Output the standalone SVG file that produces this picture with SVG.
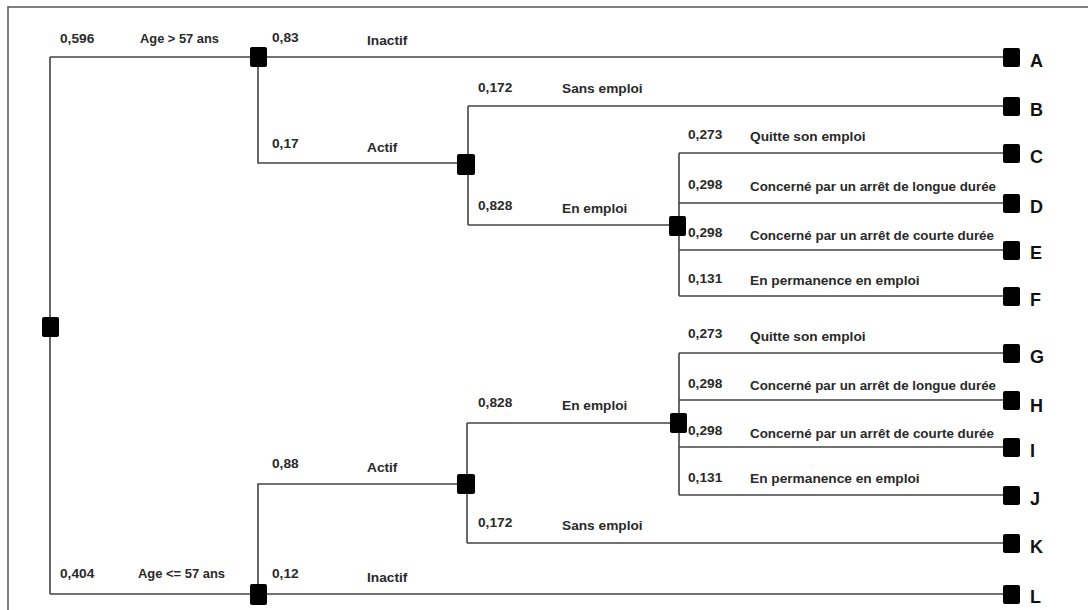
<svg xmlns="http://www.w3.org/2000/svg" width="1088" height="610" viewBox="0 0 1088 610">
<style>
.frame{fill:none;stroke:#555;stroke-width:1.5}
.edge{fill:none;stroke:#444;stroke-width:1.6}
.node{fill:#000}
.t{font-family:"Liberation Sans",Arial,sans-serif;font-size:13.7px;font-weight:bold;fill:#2a2a2a}
.lt{font-family:"Liberation Sans",Arial,sans-serif;font-size:18px;font-weight:bold;fill:#111}
</style>
<rect width="1088" height="610" fill="#fff"/>
<path class="frame" d="M8,612 V7 H1090"/>
<g id="connectors">
<path class="edge" d="M50,57 V594 M50,57 H258 M50,594 H258"/>
<path class="edge" d="M258,57 H1011 M258,57 V163 H466"/>
<path class="edge" d="M468,106 V225 M468,106 H1011 M468,225 H679"/>
<path class="edge" d="M679,153 V296 M679,153 H1011 M679,203 H1011 M679,250 H1011 M679,296 H1011"/>
<path class="edge" d="M258,594 H1011 M258,594 V484 H466"/>
<path class="edge" d="M467,423 V543 M467,423 H679 M467,543 H1011"/>
<path class="edge" d="M679,353 V495 M679,353 H1011 M679,400 H1011 M679,447 H1011 M679,495 H1011"/>
</g>
<g id="edge-labels">
<text class="t" x="60" y="43">0,596</text>
<text class="t" x="140" y="43" textLength="79" lengthAdjust="spacingAndGlyphs">Age &gt; 57 ans</text>
<text class="t" x="272" y="42">0,83</text>
<text class="t" x="367" y="45">Inactif</text>
<text class="t" x="272" y="148">0,17</text>
<text class="t" x="367" y="152">Actif</text>
<text class="t" x="478" y="92">0,172</text>
<text class="t" x="562" y="93">Sans emploi</text>
<text class="t" x="478" y="210">0,828</text>
<text class="t" x="562" y="213">En emploi</text>
<text class="t" x="688" y="139">0,273</text>
<text class="t" x="750" y="141">Quitte son emploi</text>
<text class="t" x="688" y="189">0,298</text>
<text class="t" x="750" y="191" textLength="246" lengthAdjust="spacingAndGlyphs">Concerné par un arrêt de longue durée</text>
<text class="t" x="688" y="237">0,298</text>
<text class="t" x="750" y="240" textLength="244" lengthAdjust="spacingAndGlyphs">Concerné par un arrêt de courte durée</text>
<text class="t" x="688" y="283">0,131</text>
<text class="t" x="750" y="285">En permanence en emploi</text>
<text class="t" x="688" y="338">0,273</text>
<text class="t" x="750" y="341">Quitte son emploi</text>
<text class="t" x="688" y="388">0,298</text>
<text class="t" x="750" y="390" textLength="246" lengthAdjust="spacingAndGlyphs">Concerné par un arrêt de longue durée</text>
<text class="t" x="688" y="435">0,298</text>
<text class="t" x="750" y="438" textLength="244" lengthAdjust="spacingAndGlyphs">Concerné par un arrêt de courte durée</text>
<text class="t" x="688" y="482">0,131</text>
<text class="t" x="750" y="483">En permanence en emploi</text>
<text class="t" x="478" y="407">0,828</text>
<text class="t" x="562" y="410">En emploi</text>
<text class="t" x="478" y="527">0,172</text>
<text class="t" x="562" y="530">Sans emploi</text>
<text class="t" x="272" y="468">0,88</text>
<text class="t" x="367" y="472">Actif</text>
<text class="t" x="60" y="578">0,404</text>
<text class="t" x="138" y="578" textLength="87" lengthAdjust="spacingAndGlyphs">Age &lt;= 57 ans</text>
<text class="t" x="272" y="578">0,12</text>
<text class="t" x="367" y="582">Inactif</text>
</g>
<g id="root"><rect class="node" x="42" y="317" width="17" height="20" rx="2"/></g>
<g id="age-gt-57"><rect class="node" x="250" y="47" width="17" height="20" rx="2"/></g>
<g id="actif-1"><rect class="node" x="457" y="154" width="18" height="21" rx="2"/></g>
<g id="en-emploi-1"><rect class="node" x="669" y="216" width="17" height="20" rx="2"/></g>
<g id="age-le-57"><rect class="node" x="250" y="584" width="17" height="21" rx="2"/></g>
<g id="actif-2"><rect class="node" x="457" y="474" width="18" height="20" rx="2"/></g>
<g id="en-emploi-2"><rect class="node" x="670" y="413" width="17" height="20" rx="2"/></g>
<g id="leaf-A"><rect class="node" x="1003" y="48" width="17" height="19" rx="2"/><text class="lt" x="1030" y="67">A</text></g>
<g id="leaf-B"><rect class="node" x="1003" y="97" width="17" height="19" rx="2"/><text class="lt" x="1030" y="116">B</text></g>
<g id="leaf-C"><rect class="node" x="1003" y="144" width="17" height="19" rx="2"/><text class="lt" x="1030" y="163">C</text></g>
<g id="leaf-D"><rect class="node" x="1003" y="194" width="17" height="19" rx="2"/><text class="lt" x="1030" y="213">D</text></g>
<g id="leaf-E"><rect class="node" x="1003" y="241" width="17" height="19" rx="2"/><text class="lt" x="1030" y="259">E</text></g>
<g id="leaf-F"><rect class="node" x="1003" y="287" width="17" height="19" rx="2"/><text class="lt" x="1030" y="306">F</text></g>
<g id="leaf-G"><rect class="node" x="1003" y="344" width="17" height="19" rx="2"/><text class="lt" x="1030" y="363">G</text></g>
<g id="leaf-H"><rect class="node" x="1003" y="391" width="17" height="19" rx="2"/><text class="lt" x="1030" y="412">H</text></g>
<g id="leaf-I"><rect class="node" x="1003" y="438" width="17" height="19" rx="2"/><text class="lt" x="1030" y="457">I</text></g>
<g id="leaf-J"><rect class="node" x="1003" y="486" width="17" height="19" rx="2"/><text class="lt" x="1030" y="505">J</text></g>
<g id="leaf-K"><rect class="node" x="1003" y="534" width="17" height="19" rx="2"/><text class="lt" x="1030" y="553">K</text></g>
<g id="leaf-L"><rect class="node" x="1003" y="585" width="17" height="19" rx="2"/><text class="lt" x="1030" y="603">L</text></g>
</svg>
